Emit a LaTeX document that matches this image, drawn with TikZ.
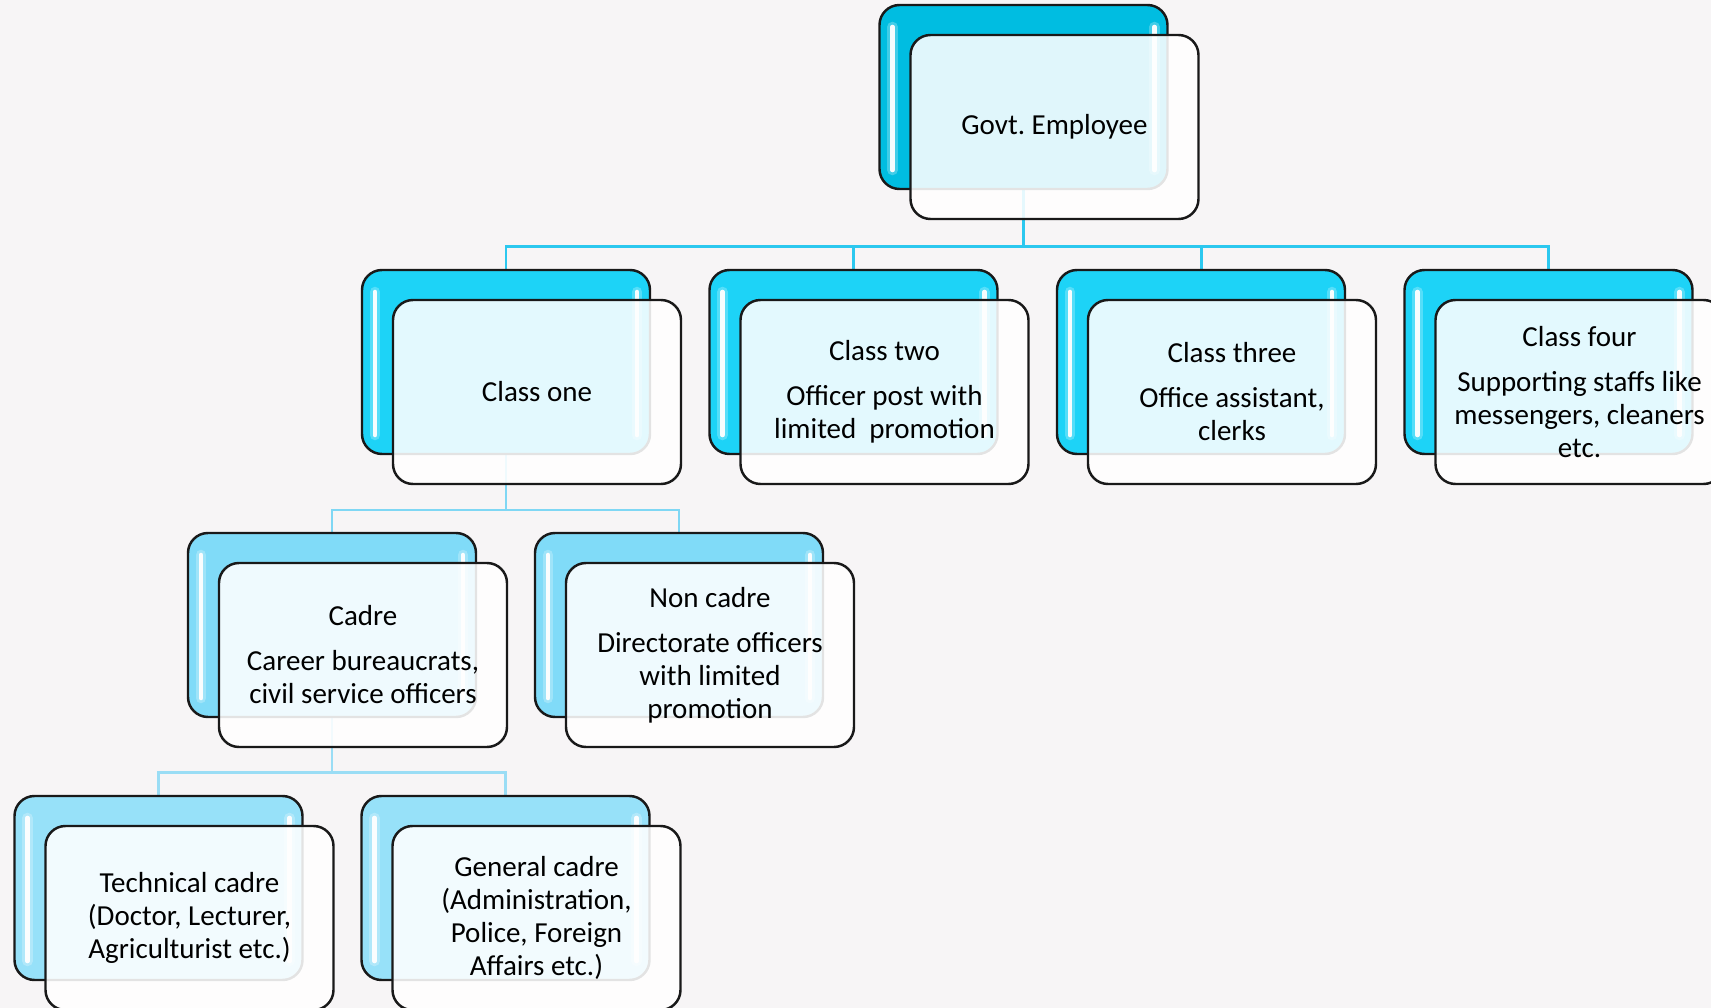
\documentclass[tikz,border=0pt]{standalone}
\usepackage{fontspec}
\setmainfont{Carlito}
\usepackage{xcolor}
\usetikzlibrary{calc,backgrounds}

\definecolor{paper}{HTML}{F7F5F6}
\definecolor{topblue}{HTML}{00BDE1}
\definecolor{classblue}{HTML}{1DD3F7}
\definecolor{cadreblue}{HTML}{80DBF8}
\definecolor{subblue}{HTML}{97E1F9}
\definecolor{linktop}{HTML}{2CC8EF}
\definecolor{linkmid}{HTML}{7FD7F4}
\definecolor{linklow}{HTML}{9ADDF5}

\begin{document}
\frenchspacing
\begin{tikzpicture}[
        box/.style={draw=black!90, line width=.7pt, rounded corners=.2cm, minimum width=2.88cm, minimum height=1.84cm, inner sep=0pt},
        backbox/.style={box, fill=#1, path picture={
            \foreach \a/\b/\dx in {north west/south west/.13, north east/south east/-.13}{
                \draw[white, opacity=.25, line width=3pt, line cap=round] ([shift={(\dx,-.22)}]path picture bounding box.\a) -- ([shift={(\dx,.19)}]path picture bounding box.\b);
                \draw[white, opacity=.95, line width=1.3pt, line cap=round] ([shift={(\dx,-.22)}]path picture bounding box.\a) -- ([shift={(\dx,.19)}]path picture bounding box.\b);
            }}},
        frontbox/.style={box, fill=white, fill opacity=.88, text opacity=1, align=center, font=\fontsize{8.25}{9.4}\selectfont},
        link/.style={draw=#1, line width=.85pt}
    ]
        \useasboundingbox (0,0) rectangle (17.11,-10.08);

        % top
        \node[backbox=topblue] (govB) at (10.235,-.97) {};
        \node[frontbox] (gov) at ($(govB)+(.31,-.3)$) {Govt. Employee};

        % classes
        \node[backbox=classblue] (c1B) at (5.06,-3.62) {};
        \node[frontbox] (c1) at ($(c1B)+(.31,-.3)$) {Class one};
        \node[backbox=classblue] (c2B) at (8.535,-3.62) {};
        \node[frontbox] (c2) at ($(c2B)+(.31,-.3)$) {Class two\\[1.2mm]Officer post with\\limited\ \ promotion};
        \node[backbox=classblue] (c3B) at (12.01,-3.62) {};
        \node[frontbox] (c3) at ($(c3B)+(.31,-.3)$) {Class three\\[1.2mm]Office assistant,\\clerks};
        \node[backbox=classblue] (c4B) at (15.485,-3.62) {};
        \node[frontbox] (c4) at ($(c4B)+(.31,-.3)$) {Class four\\[1.2mm]Supporting staffs like\\messengers, cleaners\\etc.};

        % class one
        \node[backbox=cadreblue] (cadB) at (3.32,-6.25) {};
        \node[frontbox] (cad) at ($(cadB)+(.31,-.3)$) {Cadre\\[1.2mm]Career bureaucrats,\\civil service officers};
        \node[backbox=cadreblue] (ncadB) at (6.79,-6.25) {};
        \node[frontbox] (ncad) at ($(ncadB)+(.31,-.3)$) {Non cadre\\[1.2mm]Directorate officers\\with limited\\promotion};

        % cadre
        \node[backbox=subblue] (techB) at (1.585,-8.88) {};
        \node[frontbox] (tech) at ($(techB)+(.31,-.3)$) {Technical cadre\\(Doctor, Lecturer,\\Agriculturist etc.)};
        \node[backbox=subblue] (genB) at (5.055,-8.88) {};
        \node[frontbox] (gen) at ($(genB)+(.31,-.3)$) {General cadre\\(Administration,\\Police, Foreign\\Affairs etc.)};

        \begin{scope}[on background layer]
            \fill[paper] (0,0) rectangle (17.11,-10.08);
            \coordinate (bar0) at (0,-2.466);
            \coordinate (bar1) at (0,-5.1);
            \coordinate (bar2) at (0,-7.726);
            \foreach \n in {c1B,c2B,c3B,c4B}
                \draw[link=linktop] (govB) -- (govB |- bar0) -| (\n);
            \foreach \n in {cadB,ncadB}
                \draw[link=linkmid] (c1B) -- (c1B |- bar1) -| (\n);
            \foreach \n in {techB,genB}
                \draw[link=linklow] (cadB) -- (cadB |- bar2) -| (\n);
        \end{scope}
    \end{tikzpicture}
\end{document}
